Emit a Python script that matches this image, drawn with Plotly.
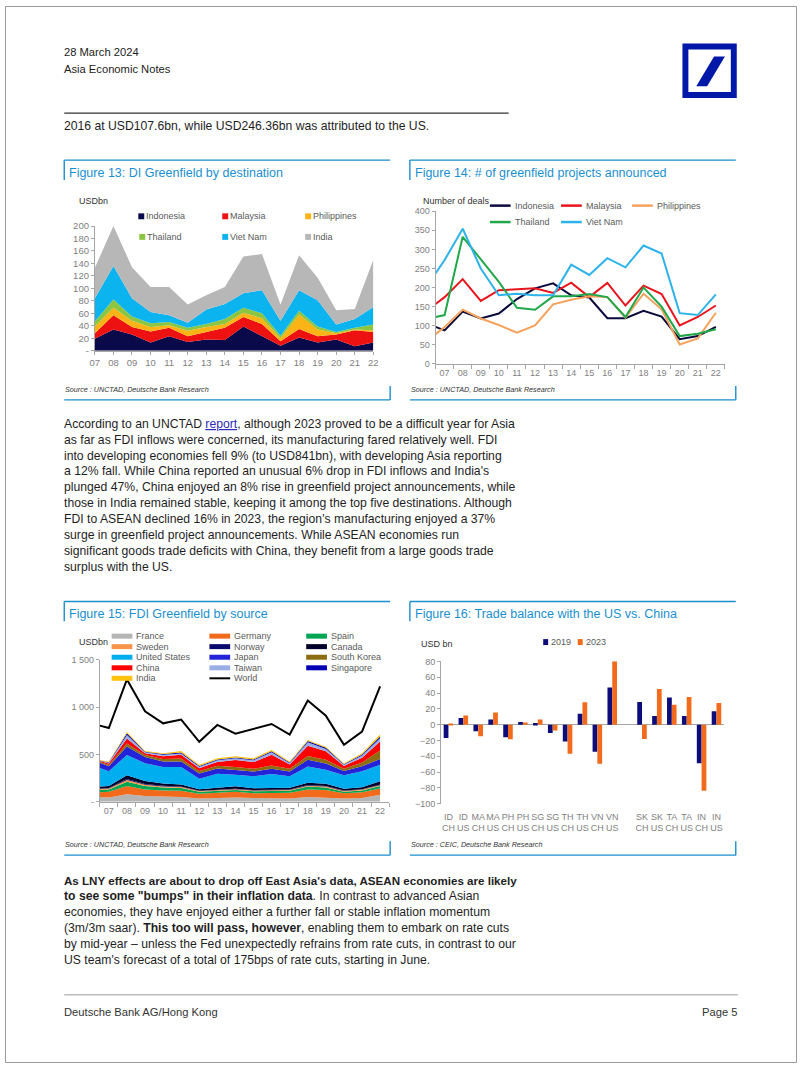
import plotly.graph_objects as go

W, H = 802, 1068
FONT = "Liberation Sans, Arial, sans-serif"
TITLE_BLUE = "#1a8fd0"
TICK_GRAY = "#7f7f7f"
AXIS_GRAY = "#a6a6a6"
TEXT = "#1e1e1e"


def px(x):
    return x / W


def py(y):
    return 1 - y / H


# ---------------------------------------------------------------- data
years = ["07", "08", "09", "10", "11", "12", "13", "14", "15", "16", "17", "18", "19", "20", "21", "22"]
year_num = [2007, 2008, 2009, 2010, 2011, 2012, 2013, 2014, 2015, 2016, 2017, 2018, 2019, 2020, 2021, 2022]
# Figures 14 & 15 carry an extra leading observation half a step before '07'
period_x = [2006.5, 2007, 2008, 2009, 2010, 2011, 2012, 2013, 2014, 2015, 2016, 2017, 2018, 2019, 2020, 2021, 2022]

# Figure 13: DI Greenfield by destination (USDbn, stacked)
dest_names = ["Indonesia", "Malaysia", "Philippines", "Thailand", "Viet Nam", "India"]
indonesia13 = [19, 34, 26, 13, 23, 14, 18, 17, 39, 24, 8, 21, 13, 18, 7, 13]
malaysia13 = [9, 23, 12, 18, 14, 9, 12, 20, 15, 19, 7, 14, 10, 8, 26, 17]
philippines13 = [11, 12, 10, 7, 4, 9, 8, 6, 7, 9, 5, 23, 11, 2, 1, 3]
thailand13 = [8, 13, 7, 6, 5, 5, 5, 8, 8, 8, 4, 6, 5, 2, 3, 9]
vietnam13 = [37, 54, 29, 18, 11, 8, 23, 24, 23, 37, 24, 33, 42, 12, 14, 28]
india13 = [49, 64, 50, 40, 45, 29, 23, 27, 59, 58, 26, 56, 36, 23, 16, 76]
dest_colors = ["#0a0a4a", "#ee1111", "#fbb415", "#8cc540", "#0bb4ef", "#b7b7b7"]

# Figure 14: number of greenfield projects announced
deal_names = ["Indonesia", "Malaysia", "Philippines", "Thailand", "Viet Nam"]
indonesia14 = [97, 88, 137, 119, 132, 170, 198, 211, 180, 174, 120, 120, 139, 124, 65, 73, 97]
malaysia14 = [157, 175, 222, 165, 193, 195, 198, 186, 213, 175, 212, 153, 205, 183, 101, 123, 153]
philippines14 = [78, 97, 142, 119, 102, 82, 101, 156, 168, 177, 175, 121, 184, 143, 51, 67, 134]
thailand14 = [123, 128, 333, 275, 215, 147, 142, 177, 177, 183, 175, 123, 200, 150, 73, 79, 91]
vietnam14 = [237, 272, 354, 250, 180, 184, 180, 180, 260, 233, 277, 253, 310, 289, 133, 128, 182]
deal_colors = ["#0a0a3c", "#e8141c", "#f5a25d", "#20a84a", "#2db2ea"]

# Figure 15: FDI Greenfield by source (USDbn, stacked) + World line
source_names = ["France", "Germany", "Spain", "Sweden", "Norway", "Canada", "United States",
                "Japan", "South Korea", "China", "Taiwan", "Singapore", "India"]
france15 = [50, 45, 80, 60, 55, 50, 35, 40, 45, 40, 40, 35, 50, 45, 35, 40, 75]
germany15 = [50, 60, 85, 70, 65, 65, 50, 55, 60, 50, 55, 60, 80, 80, 55, 60, 65]
spain15 = [25, 25, 45, 35, 30, 30, 20, 20, 20, 20, 20, 20, 30, 25, 15, 20, 25]
sweden15 = [10, 10, 20, 15, 12, 10, 8, 8, 8, 8, 8, 8, 10, 10, 8, 8, 10]
norway15 = [5, 5, 10, 8, 6, 6, 4, 5, 5, 5, 5, 5, 6, 6, 5, 5, 6]
canada15 = [20, 20, 40, 30, 25, 20, 15, 20, 25, 20, 20, 20, 25, 25, 20, 20, 35]
us15 = [196, 156, 215, 190, 173, 185, 112, 148, 123, 126, 145, 121, 172, 147, 141, 168, 175]
japan15 = [55, 55, 90, 65, 60, 60, 55, 55, 50, 50, 55, 50, 70, 65, 45, 55, 60]
korea15 = [10, 12, 30, 20, 25, 30, 25, 30, 30, 30, 35, 30, 40, 40, 25, 40, 90]
china15 = [10, 15, 55, 20, 30, 40, 30, 40, 75, 70, 115, 45, 110, 90, 30, 50, 95]
taiwan15 = [3, 8, 35, 10, 15, 15, 15, 18, 18, 20, 25, 12, 35, 25, 12, 22, 35]
singapore15 = [3, 6, 18, 6, 8, 10, 10, 8, 8, 8, 10, 8, 15, 12, 6, 12, 20]
india15 = [5, 8, 15, 7, 8, 15, 11, 12, 13, 12, 13, 11, 11, 11, 7, 12, 22]
world15 = [805, 780, 1293, 957, 829, 869, 634, 812, 719, 767, 822, 711, 1070, 910, 603, 742, 1220]
source_colors = ["#b5b5b5", "#f26a1b", "#00a651", "#f7964a", "#0a0a6e", "#000028", "#00aeef",
                 "#2323d9", "#8c6d12", "#ff0000", "#9aaee6", "#0000b4", "#ffc20e"]

# Figure 16: trade balance with the US vs China (USD bn)
trade_cats = ["ID<br>CH", "ID<br>US", "MA<br>CH", "MA<br>US", "PH<br>CH", "PH<br>US",
              "SG<br>CH", "SG<br>US", "TH<br>CH", "TH<br>US", "VN<br>CH", "VN<br>US", " ",
              "SK<br>CH", "SK<br>US", "TA<br>CH", "TA<br>US", "IN<br>CH", "IN<br>US"]
bal2019 = [-17, 8.4, -8.4, 6.7, -15.9, 3.3, 2.1, -10.4, -21.3, 13.8, -34.3, 47.2, None,
           28.8, 10.9, 34.3, 10.9, -48.9, 17.1]
bal2023 = [1.3, 11.7, -14.6, 15.5, -18.4, 2.9, 6.7, -7.5, -36.8, 28.4, -49.3, 80.6, None,
           -18.0, 45.1, 25.1, 35.1, -83.5, 27.6]
bal_names = ["2019", "2023"]
bal_colors = ["#0c0c7a", "#f26b1d"]

# ---------------------------------------------------------------- figure
fig = go.Figure()

for vals, name, col in zip([indonesia13, malaysia13, philippines13, thailand13, vietnam13, india13],
                           dest_names, dest_colors):
    fig.add_trace(go.Scatter(x=year_num, y=vals, name=name, stackgroup="dest", mode="lines",
                             line=dict(width=0, color=col), fillcolor=col,
                             xaxis="x", yaxis="y", showlegend=False))

for vals, name, col in zip([indonesia14, malaysia14, philippines14, thailand14, vietnam14],
                           deal_names, deal_colors):
    fig.add_trace(go.Scatter(x=period_x, y=vals, name=name, mode="lines",
                             line=dict(width=2, color=col), xaxis="x2", yaxis="y2", showlegend=False))

src_series = [france15, germany15, spain15, sweden15, norway15, canada15, us15, japan15,
              korea15, china15, taiwan15, singapore15, india15]
for vals, name, col in zip(src_series, source_names, source_colors):
    fig.add_trace(go.Scatter(x=period_x, y=vals, name=name, stackgroup="src", mode="lines",
                             line=dict(width=0, color=col), fillcolor=col,
                             xaxis="x3", yaxis="y3", showlegend=False))
fig.add_trace(go.Scatter(x=period_x, y=world15, name="World", mode="lines",
                         line=dict(width=2, color="#000000"), xaxis="x3", yaxis="y3", showlegend=False))

for vals, name, col in zip([bal2019, bal2023], bal_names, bal_colors):
    fig.add_trace(go.Bar(x=trade_cats, y=vals, name=name, marker=dict(color=col, line=dict(width=0)),
                         xaxis="x4", yaxis="y4", showlegend=False))

shapes = []
annots = []


def txt(x, y, s, size=12.2, color=TEXT, anchor="left", yanchor="middle"):
    annots.append(dict(x=px(x), y=py(y), xref="paper", yref="paper", text=s, showarrow=False,
                       xanchor=anchor, yanchor=yanchor, borderpad=0,
                       font=dict(size=size, color=color, family=FONT)))


def line(x0, y0, x1, y1, color, width):
    shapes.append(dict(type="line", xref="paper", yref="paper", x0=px(x0), y0=py(y0),
                       x1=px(x1), y1=py(y1), line=dict(color=color, width=width)))


def rect(x0, y0, x1, y1, color):
    shapes.append(dict(type="rect", xref="paper", yref="paper", x0=px(x0), y0=py(y0),
                       x1=px(x1), y1=py(y1), line=dict(width=0), fillcolor=color))


# page border
shapes.append(dict(type="rect", xref="paper", yref="paper", x0=px(0.5), y0=py(1067.5),
                   x1=px(801.5), y1=py(0.5), line=dict(color="#9a9a9a", width=1)))

# header
txt(59, 46.5, "28 March 2024", size=11.2, color="#222")
txt(59, 63.5, "Asia Economic Notes", size=11.2, color="#222")
rect(686, 38, 741, 93, "#0018a8")
rect(692, 44, 735, 87, "#ffffff")
shapes.append(dict(type="path", xref="paper", yref="paper",
                   path="M {},{} L {},{} L {},{} L {},{} Z".format(px(700), py(81), px(711), py(81),
                                                                   px(729), py(51), px(718), py(51)),
                   fillcolor="#0018a8", line=dict(width=0)))
line(60, 108.3, 510, 108.3, "#333333", 1.3)
txt(59, 121, "2016 at USD107.6bn, while USD246.36bn was attributed to the US.")

# figure frames
frames = [
    (60, 390, 155.7, 398, "Figure 13: DI Greenfield by destination", "Source : UNCTAD, Deutsche Bank Research"),
    (410, 740, 155.7, 398, "Figure 14: # of greenfield projects announced", "Source : UNCTAD, Deutsche Bank Research"),
    (60, 390, 601.7, 858, "Figure 15: FDI Greenfield by source", "Source : UNCTAD, Deutsche Bank Research"),
    (410, 740, 601.7, 858, "Figure 16: Trade balance with the US vs. China", "Source : CEIC, Deutsche Bank Research"),
]
for x0, x1, yt, yb, title, src in frames:
    line(x0, yt, x1, yt, TITLE_BLUE, 1.4)
    line(x0, yt, x0, yt + 20, TITLE_BLUE, 1.4)
    line(x0, yb, x1, yb, TITLE_BLUE, 1.4)
    line(x1, yb - 14, x1, yb, TITLE_BLUE, 1.4)
    txt(x0 + 4, yt + 12.8, title, size=12.5, color=TITLE_BLUE)
    txt(x0, yb - 10.5, "<i>" + src + "</i>", size=7.2, color="#333")

LEG = "#5a5a5a"
# Figure 13 legend
txt(74, 196.7, "USDbn", size=9, color="#333")
leg13 = [(135, 212.5), (220, 212.5), (304, 212.5), (136, 233.3), (220, 233.3), (304, 233.3)]
for (lx, ly), name, col in zip(leg13, dest_names, dest_colors):
    rect(lx, ly - 3, lx + 6, ly + 3, col)
    txt(lx + 7, ly, name, size=9, color=LEG)

# Figure 14 legend
txt(422, 196.7, "Number of deals", size=9, color="#333")
leg14 = [(491, 201.7), (563, 201.7), (635, 201.7), (491, 218.3), (563, 218.3)]
for (lx, ly), name, col in zip(leg14, deal_names, deal_colors):
    line(lx, ly, lx + 21, ly, col, 2.5)
    txt(lx + 24, ly, name, size=9, color=LEG)

# Figure 15 legend
txt(74, 642.7, "USDbn", size=9, color="#333")
cols15 = [108, 207, 305]
rows15 = [636.7, 647.3, 658, 668.7, 679.3]
leg15_names = source_names + ["World"]
leg15_colors = source_colors + ["#000000"]
for i, (name, col) in enumerate(zip(leg15_names, leg15_colors)):
    lx = cols15[i % 3]
    ly = rows15[i // 3]
    line(lx, ly, lx + 21, ly, col, 2 if name == "World" else 5)
    txt(lx + 24, ly, name, size=9, color=LEG)

# Figure 16 legend
txt(420, 645, "USD bn", size=9, color="#333")
for lx, name, col in zip([545, 580], bal_names, bal_colors):
    rect(lx, 642.7 - 3, lx + 5, 642.7 + 3, col)
    txt(lx + 7, 642.7, name, size=9, color=LEG)

# body text
para1 = [
    "According to an UNCTAD <span style='color:#2b2bb5'><u>report</u></span>, although 2023 proved to be a difficult year for Asia",
    "as far as FDI inflows were concerned, its manufacturing fared relatively well. FDI",
    "into developing economies fell 9% (to USD841bn), with developing Asia reporting",
    "a 12% fall. While China reported an unusual 6% drop in FDI inflows and India's",
    "plunged 47%, China enjoyed an 8% rise in greenfield project announcements, while",
    "those in India remained stable, keeping it among the top five destinations. Although",
    "FDI to ASEAN declined 16% in 2023, the region's manufacturing enjoyed a 37%",
    "surge in greenfield project announcements. While ASEAN economies run",
    "significant goods trade deficits with China, they benefit from a large goods trade",
    "surplus with the US.",
]
for i, s in enumerate(para1):
    txt(59, 422 + i * 16.1, s)

para2 = [
    "<b>As LNY effects are about to drop off East Asia's data, ASEAN economies are likely</b>",
    '<b>to see some "bumps" in their inflation data</b>. In contrast to advanced Asian',
    "economies, they have enjoyed either a further fall or stable inflation momentum",
    "(3m/3m saar). <b>This too will pass, however</b>, enabling them to embark on rate cuts",
    "by mid-year \u2013 unless the Fed unexpectedly refrains from rate cuts, in contrast to our",
    "US team's forecast of a total of 175bps of rate cuts, starting in June.",
]
for i, s in enumerate(para2):
    txt(59, 883.5 + i * 16.1, s, size=11.6 if i == 0 else 12.2)

# footer
line(60, 999, 742, 999, "#bbbbbb", 1.5)
txt(59, 1016, "Deutsche Bank AG/Hong Kong", size=11.2, color="#333")
txt(742, 1016, "Page 5", size=11.2, color="#333", anchor="right")

# ---------------------------------------------------------------- axes
tickf = dict(size=9.5, color=TICK_GRAY, family=FONT)
tickf_s = dict(size=9, color=TICK_GRAY, family=FONT)
common_ax = dict(showgrid=False, zeroline=False, showline=True, linecolor=AXIS_GRAY, linewidth=1,
                 tickcolor=AXIS_GRAY, fixedrange=True)

half_steps = [2006.5 + k for k in range(17)]

fig.update_layout(
    width=W, height=H, margin=dict(l=0, r=0, t=0, b=0), autosize=False,
    paper_bgcolor="white", plot_bgcolor="rgba(0,0,0,0)", showlegend=False,
    barmode="group", bargap=0.36, bargroupgap=0.0,
    font=dict(family=FONT), shapes=shapes, annotations=annots,
    xaxis=dict(domain=[px(91), px(373)], range=[2007, 2022], anchor="y",
               tickmode="array", tickvals=year_num, ticktext=years,
               ticks="outside", ticklen=3, tickfont=tickf, **common_ax),
    yaxis=dict(domain=[py(348.3), py(222.3)], range=[0, 200], anchor="x",
               tickmode="array", tickvals=list(range(0, 201, 20)),
               ticktext=["-"] + [str(v) for v in range(20, 201, 20)],
               ticks="outside", ticklen=3, tickfont=tickf, **common_ax),
    xaxis2=dict(domain=[px(436), px(729)], range=[2006.5, 2022.5], anchor="y2",
                tickmode="array", tickvals=year_num, ticktext=years, ticks="",
                minor=dict(tickmode="array", tickvals=half_steps, ticks="outside",
                           ticklen=4, tickcolor=AXIS_GRAY),
                tickfont=tickf_s, **common_ax),
    yaxis2=dict(domain=[py(361.7), py(207.3)], range=[0, 400], anchor="x2",
                tickmode="array", tickvals=list(range(0, 401, 50)),
                ticks="outside", ticklen=3, tickfont=tickf_s, **common_ax),
    xaxis3=dict(domain=[px(96), px(389)], range=[2006.5, 2022.5], anchor="y3",
                tickmode="array", tickvals=year_num, ticktext=years, ticks="",
                minor=dict(tickmode="array", tickvals=half_steps, ticks="outside",
                           ticklen=4, tickcolor=AXIS_GRAY),
                tickfont=tickf_s, **common_ax),
    yaxis3=dict(domain=[py(804), py(660.7)], range=[0, 1500], anchor="x3",
                tickmode="array", tickvals=[0, 500, 1000, 1500],
                ticktext=["-", "500", "1 000", "1 500"],
                ticks="outside", ticklen=3, tickfont=tickf_s, **common_ax),
    xaxis4=dict(domain=[px(441.5), px(728)], type="category", range=[-0.5, 18.5], anchor="y4",
                showgrid=False, zeroline=False, showline=False, ticks="", tickangle=0,
                ticklabelstandoff=6,
                tickfont=dict(size=9, color=TICK_GRAY, family=FONT), fixedrange=True),
    yaxis4=dict(domain=[py(806), py(662.3)], range=[-100, 80], anchor="x4",
                tickmode="array", tickvals=list(range(-100, 81, 20)),
                showgrid=False, zeroline=True, zerolinecolor=AXIS_GRAY, zerolinewidth=1,
                showline=True, linecolor=AXIS_GRAY, linewidth=1, ticks="outside", ticklen=3,
                tickcolor=AXIS_GRAY, tickfont=tickf_s, fixedrange=True),
)

fig.write_html("out.html", include_plotlyjs=True, config={"displayModeBar": False},
               post_script="document.body.style.margin='0px';document.body.style.overflow='hidden';")
